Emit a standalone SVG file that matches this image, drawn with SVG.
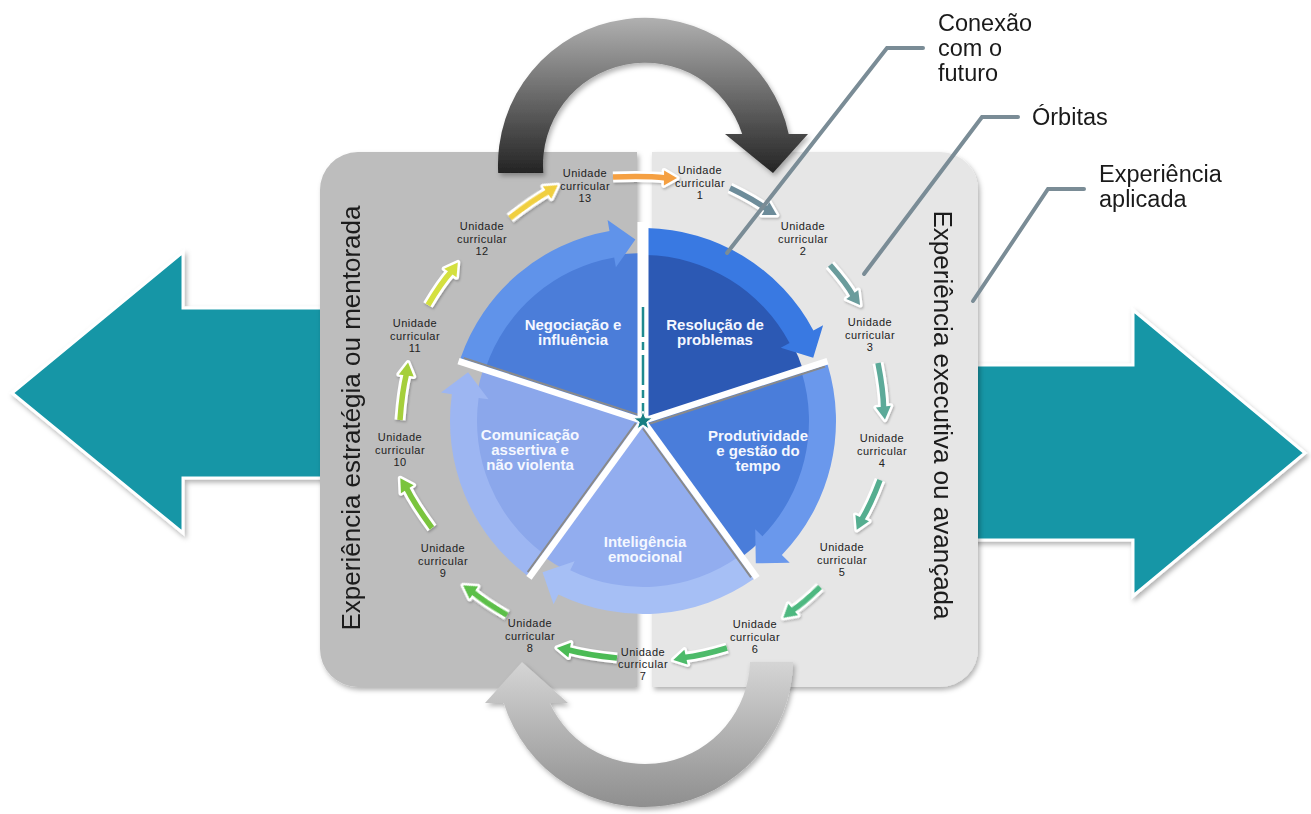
<svg xmlns="http://www.w3.org/2000/svg" width="1311" height="814" viewBox="0 0 1311 814">
<defs>
<style>
.lbl{font-family:"Liberation Sans",Arial,sans-serif;font-size:11px;fill:#222;letter-spacing:0.5px}
.pt{font-family:"Liberation Sans",Arial,sans-serif;font-size:15px;font-weight:bold;fill:#F4F7FF;text-anchor:middle}
.vt{font-family:"Liberation Sans",Arial,sans-serif;font-size:26px;fill:#1a1a1a;text-anchor:middle}
.ct{font-family:"Liberation Sans",Arial,sans-serif;font-size:23.5px;fill:#1a1a1a}
.lead{fill:none;stroke:#7A8C96;stroke-width:4;stroke-linecap:round;stroke-linejoin:miter}
.aw{fill:none;stroke:#fff;stroke-width:11}
.ahw{fill:#fff;stroke:#fff;stroke-width:5;stroke-linejoin:round}
.ac{fill:none;stroke:currentColor;stroke-width:5.5}
.ahc{fill:currentColor}
</style>
<filter id="sh" x="-10%" y="-10%" width="125%" height="125%">
<feDropShadow dx="2" dy="3" stdDeviation="2.5" flood-color="#000" flood-opacity="0.3"/>
</filter>
<filter id="sh2" x="-10%" y="-10%" width="125%" height="125%">
<feDropShadow dx="1" dy="1.5" stdDeviation="1.2" flood-color="#000" flood-opacity="0.25"/>
</filter>
<linearGradient id="gTop" gradientUnits="userSpaceOnUse" x1="0" y1="18" x2="0" y2="175">
<stop offset="0" stop-color="#B0B0B0"/><stop offset="0.45" stop-color="#707070"/><stop offset="1" stop-color="#222"/>
</linearGradient>
<linearGradient id="gBot" gradientUnits="userSpaceOnUse" x1="0" y1="660" x2="0" y2="808">
<stop offset="0" stop-color="#D6D6D6"/><stop offset="1" stop-color="#8E8E8E"/>
</linearGradient>
<path id="wedge" d="M0,0 L0,-168 A168,168 0 0 1 159.78,-51.92 Z"/>
<path id="band" d="M3.37,-192.97 A193,193 0 0 1 170.41,-90.61 L180.12,-95.77 L170.20,-63.31 L137.74,-73.24 L146.57,-77.93 A166,166 0 0 0 2.90,-165.97 Z"/>
<g id="sep"><line x1="4.5" y1="-6" x2="4.5" y2="-190" stroke="#8a8a8a" stroke-width="2"/><line x1="0" y1="0" x2="0" y2="-194" stroke="#fff" stroke-width="6.5"/></g>
</defs>

<rect width="1311" height="814" fill="#fff"/>

<!-- big teal arrows -->
<g id="arrow-left" filter="url(#sh)">
<polygon points="12,393 183,252 183,308 330,308 330,478 183,478 183,533" fill="#1396A6" stroke="#fff" stroke-width="3" stroke-linejoin="miter"/>
</g>
<g id="arrow-right" filter="url(#sh)">
<polygon points="960,365 1133,365 1133,310 1305,453 1133,596 1133,540 960,540" fill="#1396A6" stroke="#fff" stroke-width="3" stroke-linejoin="miter"/>
</g>

<!-- panels -->
<g id="panel-left" filter="url(#sh)">
<path d="M358,152 H637 V687 H358 A38,38 0 0 1 320,649 V190 A38,38 0 0 1 358,152 Z" fill="#BDBDBD"/>
<text class="vt" transform="translate(360,418) rotate(-90)">Experiência estratégia ou mentorada</text>
</g>
<g id="panel-right" filter="url(#sh)">
<path d="M652,152 H940 A38,38 0 0 1 978,190 V649 A38,38 0 0 1 940,687 H652 Z" fill="#E6E6E6"/>
<text class="vt" transform="translate(934,415) rotate(90)">Experiência executiva ou avançada</text>
</g>

<!-- curved arrows -->
<g id="arrow-top" filter="url(#sh)">
<path d="M498.2,173 A147,147 0 0 1 788.7,134 L808,134 L773,173 L725,134 L742.2,134 A102,102 0 0 0 543.3,173 Z" fill="url(#gTop)"/>
</g>
<g id="arrow-bottom" filter="url(#sh)">
<path d="M793,662 A148,148 0 0 1 503.7,703 L485,703 L522,662 L568,703 L549.7,703 A105,105 0 0 0 750,662 Z" fill="url(#gBot)"/>
</g>

<!-- pie sectors -->
<g id="node-resolucao">
<use href="#wedge" transform="translate(643,421)" fill="#2C59B4"/>
<use href="#band" transform="translate(643,421)" fill="#3979E2"/>
<text class="pt" x="715" y="330">Resolução de</text>
<text class="pt" x="715" y="345">problemas</text>
</g>
<g id="node-produtividade">
<use href="#wedge" transform="translate(643,421) rotate(72)" fill="#4A7DDA"/>
<use href="#band" transform="translate(643,421) rotate(72)" fill="#6A98EC"/>
<text class="pt" x="758" y="441">Produtividade</text>
<text class="pt" x="758" y="456">e gestão do</text>
<text class="pt" x="758" y="471">tempo</text>
</g>
<g id="node-inteligencia">
<use href="#wedge" transform="translate(643,421) rotate(144)" fill="#92ADEF"/>
<use href="#band" transform="translate(643,421) rotate(144)" fill="#A6BFF5"/>
<text class="pt" x="645" y="547">Inteligência</text>
<text class="pt" x="645" y="562">emocional</text>
</g>
<g id="node-comunicacao">
<use href="#wedge" transform="translate(643,421) rotate(216)" fill="#8BA7EB"/>
<use href="#band" transform="translate(643,421) rotate(216)" fill="#9DB6F2"/>
<text class="pt" x="530" y="440">Comunicação</text>
<text class="pt" x="530" y="455">assertiva e</text>
<text class="pt" x="530" y="470">não violenta</text>
</g>
<g id="node-negociacao">
<use href="#wedge" transform="translate(643,421) rotate(288)" fill="#4B7DD9"/>
<use href="#band" transform="translate(643,421) rotate(288)" fill="#6093EA"/>
<text class="pt" x="573" y="330">Negociação e</text>
<text class="pt" x="573" y="345">influência</text>
</g>
<g id="separators">
<use href="#sep" transform="translate(643,421) rotate(72)"/>
<use href="#sep" transform="translate(643,421) rotate(144)"/>
<use href="#sep" transform="translate(643,421) rotate(216)"/>
<use href="#sep" transform="translate(643,421) rotate(288)"/>
<line x1="643" y1="421" x2="643" y2="222" stroke="#fff" stroke-width="11"/>
<line x1="643" y1="307" x2="643" y2="416" stroke="#1F8A8F" stroke-width="2.5" stroke-dasharray="30 5 8 5"/>
</g>
<g id="center-star">
<polygon transform="translate(643,421)" points="0,-10 2.35,-3.24 9.51,-3.09 3.80,1.24 5.88,8.09 0,4 -5.88,8.09 -3.80,1.24 -9.51,-3.09 -2.35,-3.24" fill="#167E82" stroke="#fff" stroke-width="1"/>
</g>

<!-- unit labels -->
<g id="uc1"><text class="lbl" text-anchor="middle"><tspan x="700" y="174">Unidade</tspan><tspan x="700" dy="12.5">curricular</tspan><tspan x="700" dy="12.5">1</tspan></text></g>
<g id="uc2"><text class="lbl" text-anchor="middle"><tspan x="803" y="230">Unidade</tspan><tspan x="803" dy="12.5">curricular</tspan><tspan x="803" dy="12.5">2</tspan></text></g>
<g id="uc3"><text class="lbl" text-anchor="middle"><tspan x="870" y="326">Unidade</tspan><tspan x="870" dy="12.5">curricular</tspan><tspan x="870" dy="12.5">3</tspan></text></g>
<g id="uc4"><text class="lbl" text-anchor="middle"><tspan x="882" y="442">Unidade</tspan><tspan x="882" dy="12.5">curricular</tspan><tspan x="882" dy="12.5">4</tspan></text></g>
<g id="uc5"><text class="lbl" text-anchor="middle"><tspan x="842" y="551">Unidade</tspan><tspan x="842" dy="12.5">curricular</tspan><tspan x="842" dy="12.5">5</tspan></text></g>
<g id="uc6"><text class="lbl" text-anchor="middle"><tspan x="755" y="628">Unidade</tspan><tspan x="755" dy="12.5">curricular</tspan><tspan x="755" dy="12.5">6</tspan></text></g>
<g id="uc7"><text class="lbl" text-anchor="middle"><tspan x="643" y="656">Unidade</tspan><tspan x="643" dy="12">curricular</tspan><tspan x="643" dy="12">7</tspan></text></g>
<g id="uc8"><text class="lbl" text-anchor="middle"><tspan x="530" y="627">Unidade</tspan><tspan x="530" dy="12.5">curricular</tspan><tspan x="530" dy="12.5">8</tspan></text></g>
<g id="uc9"><text class="lbl" text-anchor="middle"><tspan x="443" y="552">Unidade</tspan><tspan x="443" dy="12.5">curricular</tspan><tspan x="443" dy="12.5">9</tspan></text></g>
<g id="uc10"><text class="lbl" text-anchor="middle"><tspan x="400" y="441">Unidade</tspan><tspan x="400" dy="12.5">curricular</tspan><tspan x="400" dy="12.5">10</tspan></text></g>
<g id="uc11"><text class="lbl" text-anchor="middle"><tspan x="415" y="327">Unidade</tspan><tspan x="415" dy="12.5">curricular</tspan><tspan x="415" dy="12.5">11</tspan></text></g>
<g id="uc12"><text class="lbl" text-anchor="middle"><tspan x="482" y="230">Unidade</tspan><tspan x="482" dy="12.5">curricular</tspan><tspan x="482" dy="12.5">12</tspan></text></g>
<g id="uc13"><text class="lbl" text-anchor="middle"><tspan x="585" y="177">Unidade</tspan><tspan x="585" dy="12.5">curricular</tspan><tspan x="585" dy="12.5">13</tspan></text></g>

<!-- connectors -->
<g id="connectors">
<g filter="url(#sh2)">
<g transform="translate(613,177) rotate(1)" color="#F5A042"><path class="aw" d="M0,0 Q32,-2 53,0"/><path class="ahw" d="M51,-7.5 L64,0 L51,7.5 Z"/><path class="ac" d="M0,0 Q32,-2 53,0"/><path class="ahc" d="M51,-7.5 L64,0 L51,7.5 Z"/></g>
<g transform="translate(730,188) rotate(30)" color="#6D8C9A"><path class="aw" d="M0,0 Q27,-2 43,0"/><path class="ahw" d="M41,-7.5 L54,0 L41,7.5 Z"/><path class="ac" d="M0,0 Q27,-2 43,0"/><path class="ahc" d="M41,-7.5 L54,0 L41,7.5 Z"/></g>
<g transform="translate(830,265) rotate(53)" color="#6A9C9C"><path class="aw" d="M0,0 Q25,-2 39,0"/><path class="ahw" d="M37,-7.5 L50,0 L37,7.5 Z"/><path class="ac" d="M0,0 Q25,-2 39,0"/><path class="ahc" d="M37,-7.5 L50,0 L37,7.5 Z"/></g>
<g transform="translate(878,363) rotate(83)" color="#5BAA99"><path class="aw" d="M0,0 Q28,-2 46,0"/><path class="ahw" d="M44,-7.5 L57,0 L44,7.5 Z"/><path class="ac" d="M0,0 Q28,-2 46,0"/><path class="ahc" d="M44,-7.5 L57,0 L44,7.5 Z"/></g>
<g transform="translate(880,480) rotate(115)" color="#55AE90"><path class="aw" d="M0,0 Q27,-2 44,0"/><path class="ahw" d="M42,-7.5 L55,0 L42,7.5 Z"/><path class="ac" d="M0,0 Q27,-2 44,0"/><path class="ahc" d="M42,-7.5 L55,0 L42,7.5 Z"/></g>
<g transform="translate(820,587) rotate(140)" color="#4EB880"><path class="aw" d="M0,0 Q24,-2 37,0"/><path class="ahw" d="M35,-7.5 L48,0 L35,7.5 Z"/><path class="ac" d="M0,0 Q24,-2 37,0"/><path class="ahc" d="M35,-7.5 L48,0 L35,7.5 Z"/></g>
<g transform="translate(727,648) rotate(167.5)" color="#4DBB6A"><path class="aw" d="M0,0 Q27,-2 44,0"/><path class="ahw" d="M42,-7.5 L55,0 L42,7.5 Z"/><path class="ac" d="M0,0 Q27,-2 44,0"/><path class="ahc" d="M42,-7.5 L55,0 L42,7.5 Z"/></g>
<g transform="translate(617,658) rotate(189.5)" color="#4CBB55"><path class="aw" d="M0,0 Q30,-2 50,0"/><path class="ahw" d="M48,-7.5 L61,0 L48,7.5 Z"/><path class="ac" d="M0,0 Q30,-2 50,0"/><path class="ahc" d="M48,-7.5 L61,0 L48,7.5 Z"/></g>
<g transform="translate(507,615) rotate(214)" color="#5CBF48"><path class="aw" d="M0,0 Q26,-2 42,0"/><path class="ahw" d="M40,-7.5 L53,0 L40,7.5 Z"/><path class="ac" d="M0,0 Q26,-2 42,0"/><path class="ahc" d="M40,-7.5 L53,0 L40,7.5 Z"/></g>
<g transform="translate(432,528) rotate(237.5)" color="#7AC43E"><path class="aw" d="M0,0 Q29,-2 48,0"/><path class="ahw" d="M46,-7.5 L59,0 L46,7.5 Z"/><path class="ac" d="M0,0 Q29,-2 48,0"/><path class="ahc" d="M46,-7.5 L59,0 L46,7.5 Z"/></g>
<g transform="translate(400,420) rotate(278)" color="#A5CF3A"><path class="aw" d="M0,0 Q29,-2 47,0"/><path class="ahw" d="M45,-7.5 L58,0 L45,7.5 Z"/><path class="ac" d="M0,0 Q29,-2 47,0"/><path class="ahc" d="M45,-7.5 L58,0 L45,7.5 Z"/></g>
<g transform="translate(428,305) rotate(305)" color="#D4E040"><path class="aw" d="M0,0 Q26,-2 41,0"/><path class="ahw" d="M39,-7.5 L52,0 L39,7.5 Z"/><path class="ac" d="M0,0 Q26,-2 41,0"/><path class="ahc" d="M39,-7.5 L52,0 L39,7.5 Z"/></g>
<g transform="translate(510,218) rotate(325.5)" color="#F0CF40"><path class="aw" d="M0,0 Q29,-2 47,0"/><path class="ahw" d="M45,-7.5 L58,0 L45,7.5 Z"/><path class="ac" d="M0,0 Q29,-2 47,0"/><path class="ahc" d="M45,-7.5 L58,0 L45,7.5 Z"/></g>
</g>
<polyline class="lead" points="727,253 887,48 923,48"/>
<polyline class="lead" points="864,274 982,117 1018,117"/>
<polyline class="lead" points="973,301 1048,189 1084,189"/>
</g>

<!-- callout labels -->
<g id="callout-conexao"><text class="ct"><tspan x="938" y="31">Conexão</tspan><tspan x="938" y="56">com o</tspan><tspan x="938" y="81">futuro</tspan></text></g>
<g id="callout-orbitas"><text class="ct" x="1032" y="125">Órbitas</text></g>
<g id="callout-experiencia"><text class="ct"><tspan x="1099" y="182">Experiência</tspan><tspan x="1099" y="207">aplicada</tspan></text></g>
</svg>
